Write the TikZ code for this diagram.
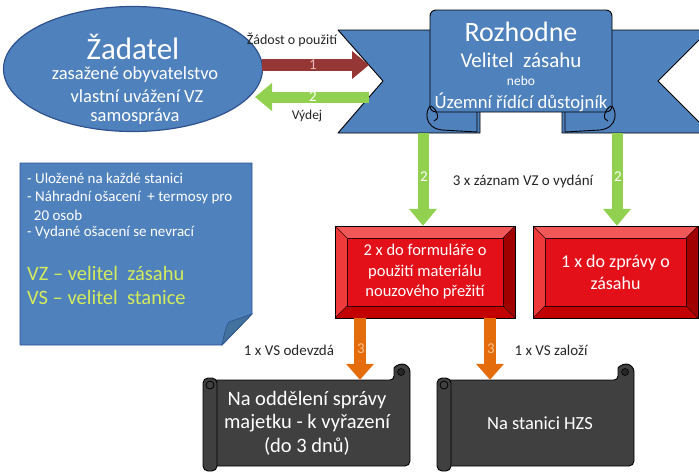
\documentclass[tikz,border=0pt]{standalone}
\usepackage{fontspec}
\setmainfont{Carlito}
\usetikzlibrary{arrows.meta,shapes.geometric}
\definecolor{bluef}{HTML}{4F81BD}
\definecolor{blued}{HTML}{2F528F}
\definecolor{bluefold}{HTML}{41719C}
\definecolor{redface}{HTML}{E3101A}
\definecolor{redtop}{HTML}{F25858}
\definecolor{redleft}{HTML}{EE3A3A}
\definecolor{redright}{HTML}{A00000}
\definecolor{redbot}{HTML}{C20000}
\definecolor{greenA}{HTML}{92D050}
\definecolor{darkredA}{HTML}{953735}
\definecolor{orangeA}{HTML}{E46C0A}
\definecolor{scrollg}{HTML}{404040}
\definecolor{yellowT}{HTML}{D4EC5C}
\definecolor{pinkT}{HTML}{E6B9B8}
\definecolor{peachT}{HTML}{FAC090}
\begin{document}
\begin{tikzpicture}[x=1pt,y=-1pt,
  ribbon/.style={fill=bluef,draw=black,line width=0.9pt,line join=round},
  whitetxt/.style={text=white,inner sep=0pt,align=center},
  lbl/.style={text=black!85,inner sep=0pt},
  fsz/.style={font=\fontsize{#1}{#1}\selectfont},
  garrow/.style={draw=greenA,line width=11pt,-{Triangle[length=17pt,width=27pt]}},
  rarrow/.style={draw=darkredA,line width=12pt,-{Triangle[length=17pt,width=27pt]}},
  oarrow/.style={draw=orangeA,line width=12pt,-{Triangle[length=16pt,width=27pt]}},
  scrollst/.style={fill=scrollg,draw=black,line width=0.9pt,line join=round},
]
\useasboundingbox (0,0) rectangle (699,472);

% ---------- Ellipse ----------
\node[ellipse,fill=bluef,draw=blued,line width=1.2pt,minimum width=259pt,minimum height=125pt,inner sep=0pt] (zad) at (133,69) {};
\node[whitetxt,fsz=31] (zadT) at (133,47) {Žadatel};
\node[whitetxt,fsz=18.5] (zad1) at (135,75) {zasažené obyvatelstvo};
\node[whitetxt,fsz=18.5] (zad2) at (137,96) {vlastní uvážení VZ};
\node[whitetxt,fsz=18.5] (zad3) at (135,117) {samospráva};

% ---------- Banner ----------
\filldraw[ribbon] (338,30) -- (480,30) -- (480,133) -- (338,133) -- (383,81) -- cycle;
\filldraw[ribbon] (562,30) -- (702,30) -- (702,37) -- (658,81) -- (702,125) -- (702,133) -- (562,133) -- cycle;
% folds
\filldraw[ribbon] (432,104) .. controls (424,110) and (424,128) .. (442,130) -- (477,132) -- (477,108) -- cycle;
\filldraw[ribbon] (610,104) .. controls (618,110) and (618,128) .. (600,130) -- (565,132) -- (565,108) -- cycle;
% centre panel
\filldraw[ribbon,rounded corners=6pt] (430,10) rectangle (612,112);
\draw[black,line width=0.9pt] (431,106) .. controls (438,110) and (440,120) .. (434,121);
\draw[black,line width=0.9pt] (611,106) .. controls (604,110) and (602,120) .. (608,121);
\node[whitetxt,fsz=28] (roz) at (521,32) {Rozhodne};
\node[whitetxt,fsz=21] (vz) at (521,60) {Velitel\ \ zásahu};
\node[whitetxt,fsz=13.5] (nebo) at (521,81) {nebo};
\node[whitetxt,fsz=18.7] (uzem) at (521,102) {Územní řídící důstojník};

% ---------- horizontal arrows ----------
\coordinate (r1s) at (262,65);
\coordinate (r1e) at (369,65);
\draw[rarrow] (r1s) -- (r1e);
\node[text=pinkT,inner sep=0pt,fsz=15] (one) at (313,65) {1};
\coordinate (g0s) at (369,97);
\coordinate (g0e) at (255,97);
\draw[garrow] (g0s) -- (g0e);
\node[text=white,inner sep=0pt,fsz=15] (two0) at (313,97) {2};
\node[lbl,fsz=14] (zad0) at (292,40) {Žádost o použití};
\node[lbl,fsz=13.5] (vyd) at (307,116) {Výdej};

% ---------- note box ----------
\filldraw[fill=bluef,draw=blued,line width=0.9pt,line join=round] (20,163) -- (252,163) -- (252,314) -- (222,345) -- (20,345) -- cycle;
\filldraw[fill=bluefold,draw=blued,line width=0.6pt] (222,345) .. controls (224,335) and (226,326) .. (229,322) -- (252,314) -- cycle;
\node[text=white,inner sep=0pt,anchor=west,fsz=15] (n1) at (27,178) {- Uložené na každé stanici};
\node[text=white,inner sep=0pt,anchor=west,fsz=15] (n2) at (27,197) {- Náhradní ošacení\ \ + termosy pro};
\node[text=white,inner sep=0pt,anchor=west,fsz=15] (n3) at (27,215) {\ \ 20 osob};
\node[text=white,inner sep=0pt,anchor=west,fsz=15] (n4) at (27,232) {- Vydané ošacení se nevrací};
\node[text=yellowT,inner sep=0pt,anchor=west,fsz=20.5] (n5) at (27,273) {VZ – velitel\ \ zásahu};
\node[text=yellowT,inner sep=0pt,anchor=west,fsz=20.5] (n6) at (27,297) {VS – velitel\ \ stanice};

% ---------- red bevel boxes ----------
\foreach \xa/\xb in {335/515,533/698}{
  \def\ya{226}\def\yb{318}\def\bv{12}
  \fill[redtop] (\xa,\ya) -- (\xb,\ya) -- (\xb-\bv,\ya+\bv) -- (\xa+\bv,\ya+\bv) -- cycle;
  \fill[redleft] (\xa,\ya) -- (\xa+\bv,\ya+\bv) -- (\xa+\bv,\yb-\bv) -- (\xa,\yb) -- cycle;
  \fill[redright] (\xb,\ya) -- (\xb,\yb) -- (\xb-\bv,\yb-\bv) -- (\xb-\bv,\ya+\bv) -- cycle;
  \fill[redbot] (\xa,\yb) -- (\xb,\yb) -- (\xb-\bv,\yb-\bv) -- (\xa+\bv,\yb-\bv) -- cycle;
  \fill[redface] (\xa+\bv,\ya+\bv) rectangle (\xb-\bv,\yb-\bv);
  \draw[black!80!red,line width=0.5pt] (\xa,\ya) -- (\xa+\bv,\ya+\bv) (\xb,\ya) -- (\xb-\bv,\ya+\bv) (\xa,\yb) -- (\xa+\bv,\yb-\bv) (\xb,\yb) -- (\xb-\bv,\yb-\bv);
  \draw[black!80!red,line width=0.5pt] (\xa+\bv,\ya+\bv) rectangle (\xb-\bv,\yb-\bv);
  \draw[black,line width=1pt] (\xa,\ya) rectangle (\xb,\yb);
}
\node[whitetxt,fsz=16.5,minimum width=180pt,minimum height=92pt,align=center] (rb1) at (425,272) {2 x do formuláře o\\[4pt]použití materiálu\\[4pt]nouzového přežití};
\node[whitetxt,fsz=18,minimum width=165pt,minimum height=92pt,align=center] (rb2) at (615.5,272) {1 x do zprávy o\\[4pt]zásahu};

% ---------- green vertical arrows ----------
\coordinate (g1s) at (423,133);
\coordinate (g2s) at (617,133);
\draw[garrow] (g1s) -- (rb1.north -| g1s);
\draw[garrow] (g2s) -- (rb2.north -| g2s);
\node[text=white,inner sep=0pt,fsz=15] (two1) at (424,177) {2};
\node[text=white,inner sep=0pt,fsz=15] (two2) at (618,177) {2};
\node[lbl,fsz=15] (zaz) at (523,181) {3 x záznam VZ o vydání};

% ---------- scrolls ----------
% left scroll
\filldraw[scrollst,rounded corners=4pt] (210,380) -- (394,380) -- (394,372) [sharp corners] arc[start angle=180,end angle=360,radius=8] [rounded corners=5pt] -- (410,466) -- (210,466) -- cycle;
\filldraw[fill=black!85,draw=black,line width=0.6pt] (401,372) circle (3.5);
\filldraw[scrollst,rounded corners=5pt] (203,378) rectangle (217,471);
\draw[black,line width=0.8pt] (210,385) circle (4);
% right scroll
\filldraw[scrollst,rounded corners=4pt] (444,380) -- (618,380) -- (618,372) [sharp corners] arc[start angle=180,end angle=360,radius=8] [rounded corners=5pt] -- (634,466) -- (444,466) -- cycle;
\filldraw[fill=black!85,draw=black,line width=0.6pt] (625,372) circle (3.5);
\filldraw[scrollst,rounded corners=5pt] (437,378) rectangle (451,471);
\draw[black,line width=0.8pt] (444,385) circle (4);

\node[whitetxt,fsz=20.5,minimum width=190pt,minimum height=86pt,align=center] (sc1) at (307,423) {Na oddělení správy\\[3pt]majetku - k vyřazení\\[3pt](do 3 dnů)};
\node[whitetxt,fsz=18.5,minimum width=180pt,minimum height=86pt,align=center] (sc2) at (540,423) {Na stanici HZS};

% ---------- orange arrows ----------
\coordinate (o1s) at (360,318);
\coordinate (o2s) at (490,318);
\draw[oarrow] (o1s) -- (sc1.north -| o1s);
\draw[oarrow] (o2s) -- (sc2.north -| o2s);
\node[text=peachT,inner sep=0pt,fsz=15] (three1) at (361,349) {3};
\node[text=peachT,inner sep=0pt,fsz=15] (three2) at (491,349) {3};
\node[lbl,fsz=15] (odev) at (289,350) {1 x VS odevzdá};
\node[lbl,fsz=15] (zal) at (551,350) {1 x VS založí};
\end{tikzpicture}
\end{document}
